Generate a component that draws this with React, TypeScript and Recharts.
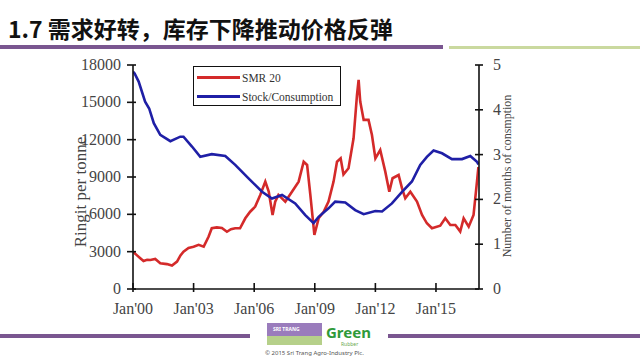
import { LineChart, Line, XAxis, YAxis, Legend, Label } from 'recharts';

// SMR 20 price, ringgit per tonne (left axis)
const smrDates = [
  2000.0, 2000.2, 2000.36, 2000.52, 2000.7, 2000.86, 2001.1, 2001.35, 2001.68, 2001.93,
  2002.18, 2002.35, 2002.5, 2002.75, 2003.0, 2003.25, 2003.5, 2003.74, 2003.9, 2004.15,
  2004.4, 2004.65, 2004.85, 2005.06, 2005.3, 2005.56, 2005.8, 2006.05, 2006.3, 2006.55,
  2006.72, 2006.91, 2007.04, 2007.2, 2007.54, 2007.87, 2008.2, 2008.45, 2008.62, 2008.78,
  2008.98, 2009.19, 2009.44, 2009.68, 2009.93, 2010.1, 2010.28, 2010.42, 2010.67, 2010.92,
  2011.09, 2011.17, 2011.25, 2011.42, 2011.66, 2011.83, 2012.0, 2012.24, 2012.49, 2012.69,
  2012.85, 2013.15, 2013.32, 2013.48, 2013.73, 2014.06, 2014.31, 2014.55, 2014.8, 2015.21,
  2015.46, 2015.71, 2015.96, 2016.2, 2016.37, 2016.62, 2016.86, 2017.03, 2017.1,
];
const smrValues = [
  3000, 2700, 2470, 2250, 2350, 2330, 2410, 2070, 2000, 1880,
  2200, 2700, 3000, 3300, 3400, 3550, 3400, 4200, 4880, 4950,
  4900, 4600, 4800, 4880, 4880, 5680, 6210, 6620, 7560, 8630,
  7820, 5950, 7020, 7560, 7020, 7820, 8630, 10230, 9970, 7560,
  4340, 5680, 6210, 7020, 8630, 10230, 10500, 9200, 9700, 12110,
  15590, 16800, 15060, 13590, 13590, 12380, 10500, 11170, 9430, 7820,
  8900, 9160, 8090, 7290, 7820, 7020, 5950, 5280, 4880, 5090,
  5680, 5140, 5140, 4610, 5680, 5010, 5950, 8630, 9800,
];

// stock / consumption, months (right axis)
const stockDates = [
  2000.0, 2000.08, 2000.28, 2000.6, 2000.8, 2001.03, 2001.35, 2001.85, 2002.34, 2002.5,
  2002.92, 2003.33, 2003.9, 2004.57, 2005.06, 2005.72, 2006.39, 2006.88, 2007.38, 2008.03,
  2008.53, 2008.94, 2009.19, 2009.68, 2010.01, 2010.51, 2011.0, 2011.42, 2012.0, 2012.33,
  2012.82, 2013.32, 2013.81, 2014.22, 2014.55, 2014.88, 2015.3, 2015.79, 2016.29, 2016.7,
  2017.03, 2017.1,
];
const stockValues = [
  4.85, 4.81, 4.63, 4.18, 4.03, 3.7, 3.44, 3.3, 3.4, 3.4,
  3.18, 2.95, 3.01, 2.97, 2.77, 2.47, 2.17, 2.02, 2.1, 1.91,
  1.65, 1.47, 1.61, 1.8, 1.95, 1.93, 1.76, 1.67, 1.74, 1.73,
  1.91, 2.17, 2.4, 2.77, 2.95, 3.09, 3.03, 2.9, 2.9, 2.97,
  2.84, 2.78,
];

const xTicks = [2000, 2003, 2006, 2009, 2012, 2015];
const xTickLabels = ["Jan'00", "Jan'03", "Jan'06", "Jan'09", "Jan'12", "Jan'15"];
const leftTicks = [0, 3000, 6000, 9000, 12000, 15000, 18000];
const rightTicks = [0, 1, 2, 3, 4, 5];

const smrData = smrDates.map((t, i) => ({ t, v: smrValues[i] }));
const stockData = stockDates.map((t, i) => ({ t, v: stockValues[i] }));

const RED = '#d42a2a';
const BLUE = '#1f1fa6';
const SERIF = '"Liberation Serif", "DejaVu Serif", serif';

const LeftTick = (props: any) => {
  const { x, y, payload } = props;
  return (
    <g>
      <line x1={x + 2} x2={x + 11} y1={y} y2={y} stroke="#111" strokeWidth={1.6} />
      <text x={x - 4} y={y} dy={5} textAnchor="end" fontSize={16} fontFamily={SERIF} fill="#444">
        {payload.value}
      </text>
    </g>
  );
};

const RightTick = (props: any) => {
  const { x, y, payload } = props;
  return (
    <g>
      <line x1={x - 12} x2={x - 4} y1={y} y2={y} stroke="#111" strokeWidth={1.6} />
      <text x={x + 6} y={y} dy={5} textAnchor="start" fontSize={16} fontFamily={SERIF} fill="#444">
        {payload.value}
      </text>
    </g>
  );
};

const BottomTick = (props: any) => {
  const { x, y, payload } = props;
  const idx = xTicks.indexOf(payload.value);
  return (
    <g>
      <line x1={x} x2={x} y1={y - 14} y2={y - 5} stroke="#111" strokeWidth={1.6} />
      <text x={x} y={y + 17} textAnchor="middle" fontSize={16} fontFamily={SERIF} fill="#444">
        {idx >= 0 ? xTickLabels[idx] : ''}
      </text>
    </g>
  );
};

const ChartLegend = () => (
  <div
    style={{
      border: '1.5px solid #111',
      width: 146,
      height: 38,
      fontFamily: SERIF,
      fontSize: 11.5,
      color: '#333',
      background: '#fff',
      boxSizing: 'content-box',
    }}
  >
    {[
      { name: 'SMR 20', color: RED },
      { name: 'Stock/Consumption', color: BLUE },
    ].map((item, i) => (
      <div key={item.name} style={{ display: 'flex', alignItems: 'center', height: 19, marginTop: i === 0 ? 1 : 0 }}>
        <span style={{ display: 'inline-block', width: 43, height: 3, background: item.color, marginLeft: 3, marginRight: 2 }} />
        <span>{item.name}</span>
      </div>
    ))}
  </div>
);

export default function App() {
  return (
    <div style={{ position: 'absolute', left: 0, top: 0, width: 640, height: 360, background: '#fff', overflow: 'hidden' }}>
      <div
        style={{
          position: 'absolute',
          left: 8,
          top: 14,
          fontFamily: '"Noto Sans CJK SC", "Noto Sans", sans-serif',
          fontWeight: 700,
          fontSize: 23,
          lineHeight: '28px',
          color: '#111',
          whiteSpace: 'nowrap',
        }}
      >
        1.7 需求好转，库存下降推动价格反弹
      </div>
      <div style={{ position: 'absolute', left: 0, top: 45, width: 443, height: 4, background: '#7a5690' }} />
      <div style={{ position: 'absolute', left: 449, top: 46, width: 191, height: 3, background: '#cad99f' }} />

      <div style={{ position: 'absolute', left: 0, top: 0 }}>
        <LineChart width={640} height={360} data={smrData} margin={{ top: 65, right: 121, bottom: 41, left: 73 }}>
          <XAxis
            dataKey="t"
            type="number"
            domain={[2000, 2017.13]}
            ticks={xTicks}
            allowDataOverflow
            height={30}
            stroke="#111"
            strokeWidth={1.6}
            tickLine={false}
            tick={<BottomTick />}
          />
          <YAxis
            yAxisId="left"
            domain={[0, 18000]}
            ticks={leftTicks}
            width={60}
            stroke="#111"
            strokeWidth={1.6}
            tickLine={false}
            tick={<LeftTick />}
          >
            <Label
              content={(p: any) => {
                const vb = p.viewBox;
                const cx = vb.x + 7;
                const cy = vb.y + 127;
                return (
                  <text
                    x={cx}
                    y={cy}
                    transform={`rotate(-90, ${cx}, ${cy})`}
                    textAnchor="middle"
                    dominantBaseline="central"
                    fontSize={17}
                    fontFamily={SERIF}
                    fill="#444"
                  >
                    Ringit per tonne
                  </text>
                );
              }}
            />
          </YAxis>
          <YAxis
            yAxisId="right"
            orientation="right"
            domain={[0, 5]}
            ticks={rightTicks}
            width={40}
            stroke="#111"
            strokeWidth={1.6}
            tickLine={false}
            tick={<RightTick />}
          >
            <Label
              content={(p: any) => {
                const vb = p.viewBox;
                const cx = vb.x + 28;
                const cy = vb.y + 111;
                return (
                  <text
                    x={cx}
                    y={cy}
                    transform={`rotate(-90, ${cx}, ${cy})`}
                    textAnchor="middle"
                    dominantBaseline="central"
                    fontSize={12}
                    fontFamily={SERIF}
                    fill="#444"
                  >
                    Number of months of consmption
                  </text>
                );
              }}
            />
          </YAxis>
          <Legend
            layout="vertical"
            align="center"
            verticalAlign="middle"
            wrapperStyle={{ left: 193, top: 66, width: 150 }}
            content={() => <ChartLegend />}
          />
          <Line
            yAxisId="left"
            data={smrData}
            dataKey="v"
            name="SMR 20"
            stroke={RED}
            strokeWidth={2.6}
            dot={false}
            type="linear"
            isAnimationActive={false}
          />
          <Line
            yAxisId="right"
            data={stockData}
            dataKey="v"
            name="Stock/Consumption"
            stroke={BLUE}
            strokeWidth={2.6}
            dot={false}
            type="linear"
            isAnimationActive={false}
          />
        </LineChart>
      </div>

      <div style={{ position: 'absolute', left: 0, top: 334, width: 250, height: 4, background: '#7a5690' }} />
      <div style={{ position: 'absolute', left: 388, top: 334, width: 252, height: 4, background: '#7a5690' }} />
      <div style={{ position: 'absolute', left: 267, top: 323, width: 55, height: 22, background: '#b6d08a' }}>
        <div
          style={{
            height: 13,
            background: '#9a7cbc',
            color: '#fff',
            fontFamily: '"Noto Sans", sans-serif',
            fontSize: 5,
            fontWeight: 700,
            lineHeight: '13px',
            paddingLeft: 6,
          }}
        >
          SRI TRANG
        </div>
      </div>
      <div
        style={{
          position: 'absolute',
          left: 326,
          top: 324,
          fontFamily: '"Noto Sans", sans-serif',
          fontWeight: 700,
          fontSize: 15,
          lineHeight: '16px',
          color: '#2f9a3a',
        }}
      >
        Green
      </div>
      <div
        style={{
          position: 'absolute',
          left: 341,
          top: 341,
          fontFamily: '"Noto Sans", sans-serif',
          fontSize: 5,
          lineHeight: '6px',
          color: '#6aa84f',
        }}
      >
        Rubber
      </div>
      <div
        style={{
          position: 'absolute',
          left: 265,
          top: 348,
          fontFamily: '"Noto Sans", sans-serif',
          fontSize: 6,
          lineHeight: '10px',
          color: '#555',
          whiteSpace: 'nowrap',
        }}
      >
        © 2015 Sri Trang Agro-Industry Plc.
      </div>
    </div>
  );
}
